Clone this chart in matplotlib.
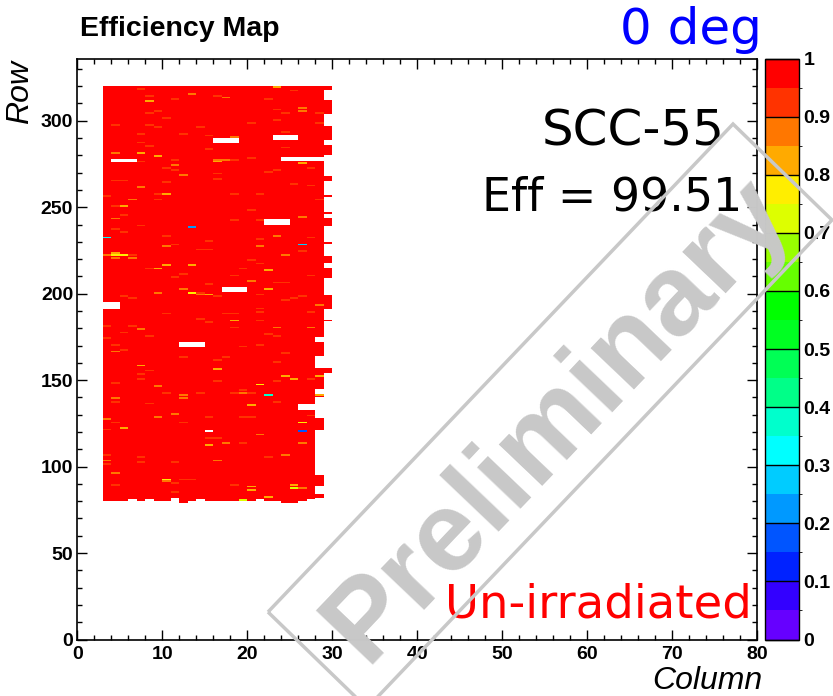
import numpy as np
import matplotlib
matplotlib.use("Agg")
import matplotlib.pyplot as plt
from matplotlib.colors import ListedColormap, BoundaryNorm
from matplotlib.patches import Polygon
from matplotlib.ticker import MultipleLocator

# ---------------- data ----------------
N_COLS = 80
N_ROWS = 336
FIRST_COL = 3

# (first_row, last_row, last_col) : rows filled from FIRST_COL to last_col
row_segments = [
    (318, 319, 29), (312, 317, 28), (304, 311, 29), (297, 303, 28),
    (289, 296, 29), (286, 288, 28), (280, 285, 29), (268, 279, 28),
    (265, 267, 29), (257, 264, 28), (256, 256, 29), (247, 255, 28),
    (246, 246, 29), (244, 245, 28), (239, 243, 29), (230, 238, 28),
    (229, 229, 29), (222, 228, 28), (218, 221, 29), (215, 217, 28),
    (209, 214, 29), (199, 208, 28), (191, 198, 29), (185, 190, 28),
    (184, 184, 29), (175, 183, 28), (172, 174, 27), (164, 171, 28),
    (157, 163, 27), (154, 156, 29), (145, 153, 28), (142, 144, 27),
    (140, 141, 28), (136, 139, 27), (133, 135, 25), (128, 132, 27),
    (121, 127, 28), (95, 120, 27), (89, 94, 28), (84, 88, 27),
    (82, 83, 28), (81, 81, 27),
]
row80_cols = [3, 4, 5, 7, 9, 10, 12, 13, 15, 16, 17, 18, 19, 20, 22, 23, 24, 25, 26]
extra_cells = [(12, 79), (24, 79), (25, 79)]

# empty pixels: (col_lo, col_hi, row_lo, row_hi)
holes = [
    (4, 6, 276, 277), (16, 18, 287, 289), (23, 25, 289, 291),
    (24, 29, 277, 278), (22, 24, 240, 242), (17, 19, 201, 203),
    (3, 4, 191, 194), (12, 14, 169, 171), (15, 15, 120, 120),
    (11, 11, 81, 81),
]

F, O, A, Y, G = 0.93, 0.88, 0.83, 0.78, 0.72
# (col, row, efficiency) for pixels below 1
low_cells = [
    (7, 318, F), (8, 314, F), (8, 311, A), (13, 315, O), (11, 312, F), (16, 314, F),
    (17, 313, O), (22, 312, F), (23, 319, A), (25, 317, F), (8, 304, F), (9, 305, F),
    (23, 306, F), (24, 304, F), (26, 307, O), (26, 305, O), (28, 304, F), (10, 301, F),
    (4, 297, F), (8, 297, F), (9, 296, F), (14, 296, F), (20, 298, F), (23, 300, F),
    (28, 298, F), (7, 292, F), (12, 292, F), (15, 291, F), (18, 290, O), (7, 287, F),
    (8, 285, F), (24, 293, F), (24, 284, F), (15, 283, F), (4, 281, O), (7, 281, A),
    (9, 279, A), (20, 278, F), (16, 277, O), (16, 276, A), (17, 277, O), (18, 277, F),
    (11, 277, F), (7, 276, F), (11, 274, O), (10, 272, F), (11, 271, F), (12, 268, O),
    (16, 269, F), (16, 266, F), (22, 270, F), (23, 271, F), (27, 272, F), (26, 275, A),
    (4, 265, F), (5, 265, F), (10, 264, F), (25, 263, F), (27, 262, F), (7, 261, O),
    (9, 257, F), (10, 257, A), (6, 254, O), (9, 254, F), (5, 250, A), (4, 250, F),
    (5, 245, F), (4, 243, O), (7, 239, F), (4, 237, F), (5, 235, F), (3, 256, F),
    (13, 238, 0.22), (3, 232, 0.33), (26, 228, 0.27),
    (10, 233, F), (10, 227, O), (11, 228, F), (3, 222, O), (4, 223, A), (4, 222, Y),
    (5, 222, Y), (6, 222, F), (4, 220, O), (6, 220, O), (9, 214, A), (8, 214, F),
    (10, 216, A), (13, 216, A), (14, 225, F), (15, 225, F), (15, 230, F), (18, 242, F),
    (21, 242, F), (20, 248, F), (21, 257, F), (18, 257, F), (26, 244, O), (23, 233, O),
    (21, 231, F), (21, 227, O), (24, 222, O), (26, 224, F), (27, 232, F), (22, 213, A),
    (21, 217, F), (20, 219, F), (18, 210, F), (19, 214, F), (20, 207, O), (23, 206, F),
    (24, 206, F), (22, 202, A), (27, 210, F), (12, 211, F), (11, 209, F), (15, 205, F),
    (12, 202, O), (13, 200, Y), (9, 200, O), (14, 200, F), (28, 254, F),
    (14, 199, O), (15, 199, A), (16, 198, F), (21, 199, F), (24, 196, F), (25, 197, F),
    (26, 198, F), (28, 193, O), (5, 198, F), (6, 197, F), (10, 188, F), (17, 188, F),
    (18, 188, F), (21, 191, F), (21, 189, F), (27, 189, F), (14, 185, F), (15, 183, F),
    (18, 184, A), (21, 184, F), (3, 181, F), (6, 181, F), (7, 179, O), (5, 177, F),
    (3, 174, F), (8, 175, F), (18, 180, F), (23, 180, O), (22, 176, F), (23, 175, F),
    (27, 180, O), (4, 170, F), (4, 166, O), (5, 167, F), (12, 163, F), (17, 163, F),
    (19, 169, F), (21, 170, F), (24, 165, F), (23, 160, F), (16, 161, F), (7, 158, A),
    (8, 155, F), (7, 153, F), (7, 150, F), (16, 156, A), (16, 149, F), (24, 152, A),
    (25, 150, A), (23, 149, F), (27, 150, F), (28, 152, A), (21, 147, Y), (4, 148, F),
    (9, 146, O), (19, 144, F), (19, 142, O), (18, 142, F), (20, 142, F), (10, 142, F),
    (12, 141, O), (22, 141, 0.38), (28, 141, A), (14, 142, F), (4, 137, F),
    (4, 139, O), (12, 139, O), (8, 136, F), (20, 135, A), (23, 137, F), (3, 127, O),
    (4, 125, F), (5, 122, A), (9, 128, O), (11, 130, O), (12, 125, F), (15, 128, F),
    (19, 128, F), (20, 128, F), (27, 129, F), (26, 125, Y), (26, 120, 0.17), (3, 121, F),
    (15, 116, F), (16, 116, F), (15, 112, A), (17, 113, O), (19, 113, F), (21, 118, O),
    (26, 113, O), (24, 106, O), (22, 105, F), (16, 103, O), (7, 105, F), (7, 102, F),
    (11, 102, F), (3, 106, F), (3, 103, O), (3, 101, F), (4, 96, O), (4, 89, F),
    (10, 92, Y), (10, 91, O), (11, 90, F), (12, 92, F), (13, 92, F), (11, 85, F),
    (18, 89, F), (20, 88, A), (20, 86, A), (22, 82, A), (25, 89, A), (25, 87, G),
    (26, 87, O), (19, 80, G),
]

palette = [
    "#6600ff", "#3300ff", "#0022ff", "#0055ff", "#0099ff",
    "#00ccff", "#00ffff", "#00ffcc", "#00ff88", "#00ff55",
    "#00ff22", "#00ff00", "#66ff00", "#99ff00", "#ddff00",
    "#ffee00", "#ffaa00", "#ff7700", "#ff3300", "#ff0000",
]
levels = np.linspace(0, 1, 21)
cbar_ticks = np.round(np.arange(0, 1.01, 0.1), 1)
cbar_labels = ["0", "0.1", "0.2", "0.3", "0.4", "0.5", "0.6", "0.7", "0.8", "0.9", "1"]

# ---------------- build map ----------------
eff = np.full((N_ROWS, N_COLS), np.nan)
for lo, hi, last in row_segments:
    eff[lo:hi + 1, FIRST_COL:last + 1] = 1.0
for c in row80_cols:
    eff[80, c] = 1.0
for c, r in extra_cells:
    eff[r, c] = 1.0
for c0, c1, r0, r1 in holes:
    eff[r0:r1 + 1, c0:c1 + 1] = np.nan
for c, r, v in low_cells:
    eff[r, c] = v
eff = np.ma.masked_invalid(eff)

cmap = ListedColormap(palette)
cmap.set_over(palette[-1])
cmap.set_bad((1, 1, 1, 0))
norm = BoundaryNorm(levels, cmap.N)

W, H = 833, 696
fig = plt.figure(figsize=(W / 100, H / 100), dpi=100)

def fx(x):
    return x / W

def fy(y):
    return 1 - y / H

ax_l, ax_r, ax_t, ax_b = 77.3, 757.3, 58.5, 639.5
ax = fig.add_axes([fx(ax_l), fy(ax_b), fx(ax_r - ax_l), (ax_b - ax_t) / H])
mesh = ax.pcolormesh(np.arange(N_COLS + 1), np.arange(N_ROWS + 1), eff,
                     cmap=cmap, norm=norm, shading="flat",
                     edgecolors="none", antialiased=False)
ax.set_xlim(0, 80)
ax.set_ylim(0, N_ROWS)
ax.xaxis.set_major_locator(MultipleLocator(10))
ax.xaxis.set_minor_locator(MultipleLocator(2))
ax.yaxis.set_major_locator(MultipleLocator(50))
ax.yaxis.set_minor_locator(MultipleLocator(10))
ax.tick_params(which="both", direction="in", top=True, right=True, width=1.0)
ax.tick_params(which="major", length=7.2)
ax.tick_params(which="minor", length=3.6)
ax.tick_params(axis="x", which="major", pad=5)
ax.tick_params(axis="y", which="major", pad=3)
for lab in ax.get_xticklabels() + ax.get_yticklabels():
    lab.set_fontfamily("Liberation Sans")
    lab.set_fontweight("bold")
    lab.set_fontsize(14)
for sp in ax.spines.values():
    sp.set_linewidth(1.2)

# colorbar
cax = fig.add_axes([fx(765), fy(ax_b), fx(799.3 - 765), (ax_b - ax_t) / H])
cb = fig.colorbar(mesh, cax=cax, boundaries=levels, ticks=cbar_ticks)
cb.ax.set_yticklabels(cbar_labels)
cb.outline.set_linewidth(1.0)
cax.tick_params(direction="in", length=24.5, width=1.0, color="black", pad=3)
for lab in cax.get_yticklabels():
    lab.set_fontfamily("Liberation Sans")
    lab.set_fontweight("bold")
    lab.set_fontsize(14)

# titles and labels
fig.text(fx(80), fy(36), "Efficiency Map", ha="left", va="baseline",
         fontsize=20.5, fontweight="bold", family="Liberation Sans")
fig.text(fx(35), fy(60), "Row", ha="right", va="top", rotation=90,
         fontsize=23, style="italic", family="Liberation Sans")
fig.text(fx(762), fy(689), "Column", ha="right", va="baseline",
         fontsize=23, style="italic", family="Liberation Sans")

fig.text(fx(762), fy(44), "0 deg", ha="right", va="baseline",
         fontsize=36, color="#0000ff", family="DejaVu Sans")
fig.text(fx(725), fy(145), "SCC-55", ha="right", va="baseline",
         fontsize=36, color="black", family="DejaVu Sans")
fig.text(fx(742), fy(211), "Eff = 99.51", ha="right", va="baseline",
         fontsize=33, color="black", family="DejaVu Sans")
fig.text(fx(752), fy(617), "Un-irradiated", ha="right", va="baseline",
         fontsize=33.5, color="#ff0000", family="DejaVu Sans")

# watermark
corners = [(268, 612), (733, 124), (832, 220), (367, 708)]
poly = Polygon([(fx(x), fy(y)) for x, y in corners], closed=True, fill=False,
               edgecolor="#c8c8c8", linewidth=2.5, transform=fig.transFigure,
               zorder=20, clip_on=False)
fig.add_artist(poly)
fig.text(fx(558), fy(420), "Preliminary", ha="center", va="center",
         rotation=46.4, rotation_mode="anchor", fontsize=82, fontweight="bold",
         color="#c8c8c8", family="Liberation Sans", zorder=21)

fig.savefig("out.png", dpi=100)
